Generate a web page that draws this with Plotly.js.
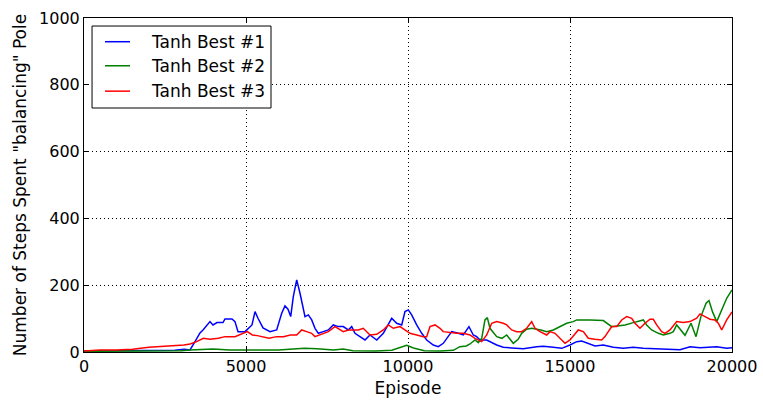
<!DOCTYPE html>
<html><head><meta charset="utf-8">
<script src="https://cdn.plot.ly/plotly-3.0.1.min.js"></script>
<style>html,body{margin:0;padding:0;background:#fff}#chart{width:763px;height:402px}</style>
</head><body><div id="chart"></div>
<script>
const seriesNames = ["Tanh Best #1", "Tanh Best #2", "Tanh Best #3"];
const xTickVals = [0, 5000, 10000, 15000, 20000];
const xTickText = ["0", "5000", "10000", "15000", "20000"];
const yTickVals = [0, 200, 400, 600, 800, 1000];

const best1X = [0,1000,2000,2800,3100,3272,3426,3580,3673,3889,3981,4105,4290,4352,4568,4660,4753,4969,5185,5278,5370,5525,5741,5947,6102,6204,6296,6380,6460,6565,6667,6768,6821,6923,7028,7130,7232,7386,7540,7694,7849,8003,8157,8262,8364,8518,8673,8827,9034,9238,9497,9651,9806,9907,10009,10114,10268,10423,10577,10781,10935,11089,11244,11349,11552,11706,11882,12015,12120,12222,12429,12531,12738,12941,13250,13559,13971,14176,14485,14744,15000,15207,15361,15565,15772,16028,16336,16645,16954,17262,17675,18086,18395,18704,19012,19528,19836,20000];
const best1Y = [3,3,4,5,8,6,31,57,66,91,81,88,88,99,99,91,61,61,81,121,101,72,61,66,116,138,128,106,166,216,176,126,106,111,96,71,56,61,66,81,76,76,66,76,56,46,36,51,36,56,101,86,81,121,126,111,81,56,36,21,16,26,46,61,56,51,76,51,46,36,36,31,21,14,11,10,16,17,14,11,21,31,33,26,18,21,14,11,14,11,10,9,7,16,13,16,11,13];

const best2X = [0,1000,2000,3000,3272,3981,4500,5200,6000,6800,7200,7700,8000,8300,9000,9500,9753,9960,10170,10500,11000,11400,11600,11800,11913,12068,12169,12275,12375,12448,12531,12738,12900,13046,13150,13250,13400,13509,13663,13818,14100,14281,14485,14691,14897,15100,15207,15620,16028,16286,16700,16954,17262,17365,17520,17727,17880,18086,18190,18293,18450,18550,18735,18890,19040,19200,19290,19400,19528,19630,19735,19836,20000];
const best2Y = [2,2,3,4,6,9,6,5,6,11,10,6,9,4,3,5,14,20,12,4,3,5,16,18,24,36,28,41,96,103,71,46,41,51,38,26,38,56,68,71,66,61,66,76,86,91,96,96,94,76,81,88,96,81,66,56,51,56,61,81,61,50,86,46,106,146,154,120,91,115,136,161,186];

const best3X = [0,500,1000,1500,2000,2500,2800,3086,3272,3478,3683,3889,4146,4352,4660,4886,5040,5196,5350,5709,5947,6159,6365,6565,6718,6872,7025,7130,7385,7540,7746,8003,8157,8466,8619,8827,9034,9238,9392,9546,9753,9907,10062,10268,10472,10577,10679,10833,10988,11089,11296,11503,11706,11913,12068,12275,12429,12583,12738,12941,13046,13200,13355,13509,13663,13818,13920,14074,14281,14383,14537,14691,14846,15000,15154,15256,15411,15565,15772,15978,16080,16286,16441,16595,16749,16904,17006,17160,17315,17469,17571,17675,17830,17932,18086,18293,18497,18704,18911,19012,19167,19321,19476,19577,19682,19836,20000];
const best3Y = [3,6,6,8,14,17,18,21,24,31,41,38,41,46,46,54,61,51,49,41,46,46,51,51,66,61,56,46,56,61,76,61,66,66,71,51,53,66,81,71,76,66,56,51,46,46,76,81,71,61,58,56,56,51,41,31,51,86,91,86,81,66,61,61,71,91,71,61,51,61,56,41,26,36,56,66,61,41,38,36,46,76,76,96,106,101,86,71,86,98,98,81,61,56,66,91,88,91,101,114,106,98,96,86,66,96,120];

const colors = ["#0000ff", "#008000", "#ff0000"];
const xs = [best1X, best2X, best3X];
const ys = [best1Y, best2Y, best3Y];

const traces = seriesNames.map((n, i) => ({
  type: "scatter", mode: "lines", name: n, x: xs[i], y: ys[i],
  line: {color: colors[i], width: 1.5}, showlegend: false
}));

const font = {family: "DejaVu Sans", size: 16, color: "#000"};
const titleFont = {family: "DejaVu Sans", size: 17, color: "#000"};
const axisCommon = {
  showline: true, linecolor: "#000", linewidth: 1, mirror: "ticks",
  ticks: "inside", ticklen: 5, tickcolor: "#000", tickwidth: 1,
  showgrid: true, gridcolor: "#000", griddash: "1px,3px", gridwidth: 1,
  zeroline: false, tickfont: font
};

// manual legend (matplotlib style box)
const legX0 = 0.0124, legX1 = 0.2886, legY1 = 0.976, legY0 = 0.7305;
const legRowY = [0.929, 0.857, 0.781];
const shapes = [{type: "rect", xref: "paper", yref: "paper", x0: legX0, x1: legX1, y0: legY0, y1: legY1,
  line: {color: "#000", width: 1}, fillcolor: "#fff", layer: "above"}];
const annotations = [];
seriesNames.forEach((n, i) => {
  shapes.push({type: "line", xref: "paper", yref: "paper", x0: 0.0324, x1: 0.0710, y0: legRowY[i], y1: legRowY[i],
    line: {color: colors[i], width: 1.5}, layer: "above"});
  annotations.push({xref: "paper", yref: "paper", x: 0.1003, y: legRowY[i], xanchor: "left", yanchor: "middle",
    text: n, showarrow: false, font: titleFont});
});

const layout = {
  width: 763, height: 402,
  margin: {l: 84, r: 31, t: 18, b: 50},
  paper_bgcolor: "#fff", plot_bgcolor: "#fff",
  font: font,
  showlegend: false,
  shapes: shapes, annotations: annotations,
  xaxis: Object.assign({}, axisCommon, {range: [0, 20000], tickvals: xTickVals, ticktext: xTickText,
    title: {text: "Episode", font: titleFont, standoff: 6}}),
  yaxis: Object.assign({}, axisCommon, {range: [0, 1000], tickvals: yTickVals,
    title: {text: 'Number of Steps Spent "balancing" Pole', font: titleFont, standoff: 8}})
};

Plotly.newPlot("chart", traces, layout, {displayModeBar: false, staticPlot: true});
</script></body></html>
